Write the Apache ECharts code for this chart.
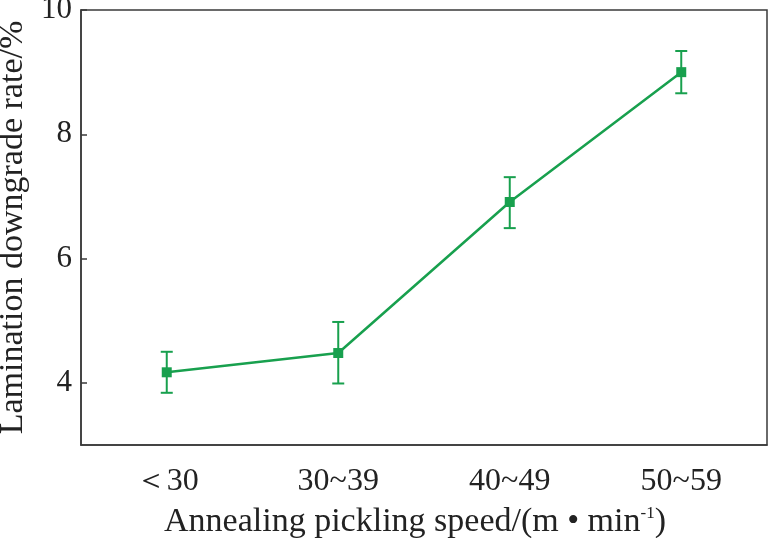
<!DOCTYPE html>
<html>
<head>
<meta charset="utf-8">
<script src="https://cdn.jsdelivr.net/npm/echarts@6/dist/echarts.min.js"></script>
<style>
  html, body { margin: 0; padding: 0; background: #fff; }
  #chart { width: 770px; height: 538px; }
</style>
</head>
<body>
<div id="chart"></div>
<script>
// data
var speedRanges = ['＜30', '30~39', '40~49', '50~59'];
var downgradeRate = [4.17, 4.48, 6.91, 9.0];
var rateLow = [3.84, 3.99, 6.49, 8.66];
var rateHigh = [4.5, 4.98, 7.31, 9.34];
var yTicks = [4, 6, 8, 10];

var green = '#18a04e';
var axisColor = '#3a3a3a';
var serif = 'Liberation Serif';

var errData = speedRanges.map(function (c, i) {
    return [i, rateLow[i], rateHigh[i]];
});

var chart = echarts.init(document.getElementById('chart'));
chart.setOption({
    animation: false,
    grid: {
        left: 81, right: 3, top: 10, bottom: 93,
        outerBoundsMode: 'none',
        containLabel: false,
        show: true,
        borderColor: axisColor,
        borderWidth: 1.5
    },
    xAxis: {
        type: 'category',
        data: speedRanges,
        boundaryGap: true,
        axisLine: { lineStyle: { color: axisColor, width: 1.5 } },
        axisTick: { inside: true, alignWithLabel: true, length: 6, lineStyle: { color: axisColor, width: 1.5 } },
        axisLabel: { color: '#222', fontFamily: serif, fontSize: 32, margin: 21 },
        name: 'Annealing pickling speed/(m • min{sup|-1})',
        nameLocation: 'middle',
        nameGap: 60,
        nameTextStyle: {
            color: '#222', fontFamily: serif, fontSize: 34,
            padding: [0, 18, 0, 0],
            rich: { sup: { fontFamily: serif, fontSize: 17, verticalAlign: 'top', padding: [0, 0, 15, 0], color: '#222' } }
        }
    },
    yAxis: {
        type: 'value',
        min: 3,
        max: 10,
        axisLine: { show: true, lineStyle: { color: axisColor, width: 1.5 } },
        axisTick: { show: true, inside: true, length: 6, customValues: yTicks, lineStyle: { color: axisColor, width: 1.5 } },
        axisLabel: { color: '#222', fontFamily: serif, fontSize: 31, margin: 9, customValues: yTicks },
        splitLine: { show: false },
        name: 'Lamination downgrade rate/%',
        nameLocation: 'middle',
        nameGap: 45,
        nameTextStyle: { color: '#222', fontFamily: serif, fontSize: 34 }
    },
    series: [
        {
            type: 'line',
            data: downgradeRate,
            symbol: 'rect',
            symbolSize: 10,
            itemStyle: { color: green },
            lineStyle: { color: green, width: 2.5 },
            z: 3
        },
        {
            type: 'custom',
            data: errData,
            z: 4,
            renderItem: function (params, api) {
                var x = api.value(0);
                var lo = api.coord([x, api.value(1)]);
                var hi = api.coord([x, api.value(2)]);
                var half = 6;
                var style = { stroke: green, lineWidth: 2 };
                return {
                    type: 'group',
                    children: [
                        { type: 'line', shape: { x1: lo[0], y1: lo[1], x2: hi[0], y2: hi[1] }, style: style },
                        { type: 'line', shape: { x1: lo[0] - half, y1: lo[1], x2: lo[0] + half, y2: lo[1] }, style: style },
                        { type: 'line', shape: { x1: hi[0] - half, y1: hi[1], x2: hi[0] + half, y2: hi[1] }, style: style }
                    ]
                };
            }
        }
    ]
});
</script>
</body>
</html>
